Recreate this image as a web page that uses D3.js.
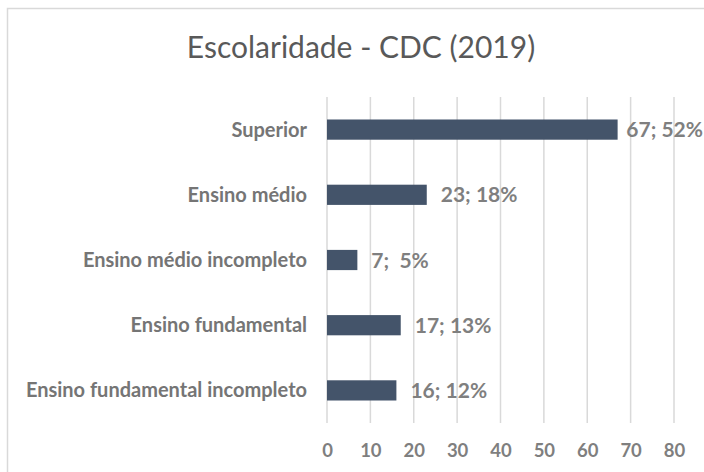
<!DOCTYPE html>
<html><head><meta charset="utf-8">
<script src="https://cdn.jsdelivr.net/npm/d3@7"></script>
<style>html,body{margin:0;padding:0;background:#fff;overflow:hidden}</style>
</head><body>
<script>
const categories = ["Superior","Ensino médio","Ensino médio incompleto","Ensino fundamental","Ensino fundamental incompleto"];
const values = [67,23,7,17,16];
const percents = ["52%","18%","5%","13%","12%"];
const xTicks = [0,10,20,30,40,50,60,70,80];
const title = "Escolaridade - CDC (2019)";

const W=704,H=472;
const svg=d3.select("body").append("svg").attr("width",W).attr("height",H);
svg.append("rect").attr("x",7.5).attr("y",8.5).attr("width",720).attr("height",480)
  .attr("fill","#fff").attr("stroke","#d9d9d9").attr("stroke-width",1.5);

const font="Lato, 'Open Sans', sans-serif";
svg.append("text").attr("x",361).attr("y",58).attr("text-anchor","middle")
  .attr("font-family",font).attr("font-size",30).attr("fill","#595959").text(title);

const x=d3.scaleLinear().domain([0,80]).range([327,674]);
const y=d3.scaleBand().domain(categories).range([97,423]).paddingInner(0.69).paddingOuter(0.345);

const g=svg.append("g");
g.selectAll("line.grid").data(xTicks).join("line").attr("class","grid")
  .attr("x1",d=>x(d)).attr("x2",d=>x(d)).attr("y1",97).attr("y2",423)
  .attr("stroke","#d9d9d9").attr("stroke-width",1.5);

g.selectAll("rect.bar").data(values).join("rect").attr("class","bar")
  .attr("x",x(0)).attr("y",(d,i)=>y(categories[i]))
  .attr("width",d=>x(d)-x(0)).attr("height",y.bandwidth())
  .attr("fill","#44546a");

const xAxis=d3.axisBottom(x).tickValues(xTicks).tickSize(0).tickPadding(0);
const ax=svg.append("g").attr("transform","translate(0,457)").call(xAxis);
ax.select(".domain").remove();
ax.selectAll("text").attr("font-family",font).attr("font-weight","bold")
  .attr("font-size",18.5).attr("fill","#7f7f7f").attr("dy",0);

const yAxis=d3.axisLeft(y).tickSize(0).tickPadding(0);
const ay=svg.append("g").attr("transform","translate(307,0)").call(yAxis);
ay.select(".domain").remove();
ay.selectAll("text").attr("font-family",font).attr("font-weight","bold")
  .attr("font-size",20).attr("fill","#757575").attr("dy","0.35em");

const vals=g.selectAll("text.val").data(values).join("text").attr("class","val")
  .attr("y",(d,i)=>y(categories[i])+y.bandwidth()/2)
  .attr("dy","0.36em").attr("font-family",font).attr("font-weight","bold")
  .attr("font-size",21).attr("fill","#7f7f7f")
  .attr("xml:space","preserve")
  .text((d,i)=>d+";"+(percents[i].length<3?"  ":" ")+percents[i]);
vals.attr("x",function(d){
  const w=this.getComputedTextLength();
  return Math.min(x(d)+14, W-1-w);
});
</script>
</body></html>
